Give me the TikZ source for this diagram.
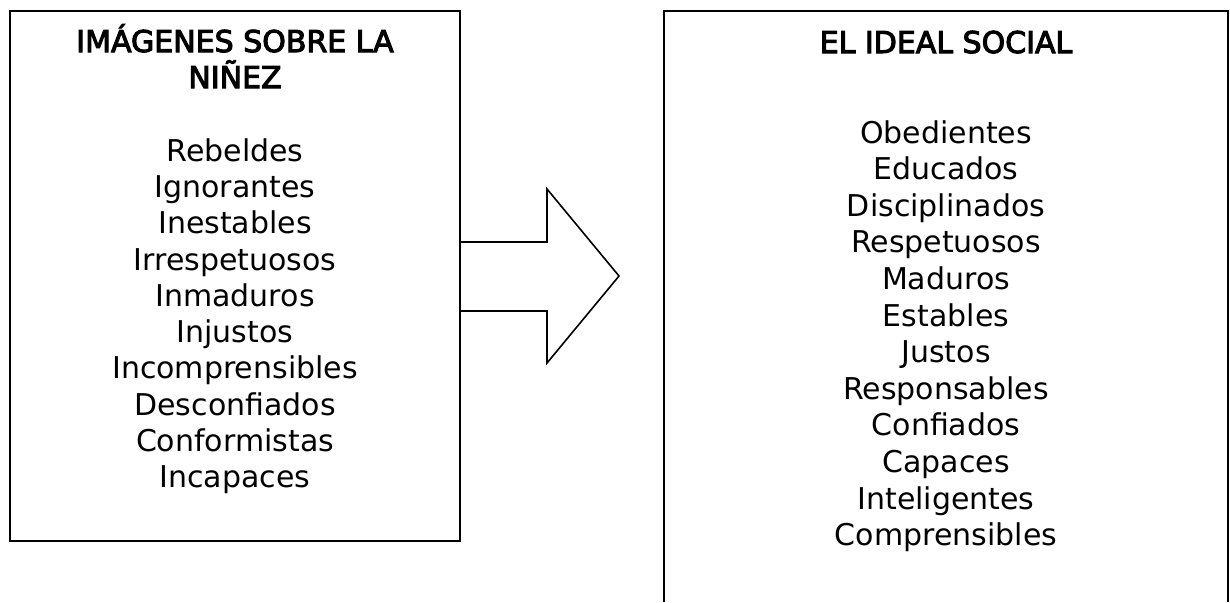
\documentclass[tikz,border=0pt]{standalone}
\usepackage{fontspec}
\setmainfont{DejaVu Sans}
\newfontfamily\fuentetitulo{DejaVu Sans}[FakeBold=3.5]
\begin{document}
\begin{tikzpicture}[x=0.5pt, y=-0.5pt, line join=miter, line width=0.8pt,
	titulo/.style={anchor=base, inner sep=0pt, font=\fontsize{15}{18}\fuentetitulo},
	palabra/.style={anchor=base, inner sep=0pt, font=\fontsize{15}{18}\selectfont}]
	\useasboundingbox (0,0) rectangle (1230,602);
	\path
	(10,11) coordinate (A)
	(460,541) coordinate (B)
	(664,602) coordinate (C)
	(664,11) coordinate (D)
	(1228,11) coordinate (E)
	(1228,602) coordinate (F)
	(460,242) coordinate (P1)
	(547,242) coordinate (P2)
	(547,189) coordinate (P3)
	(619,276) coordinate (P4)
	(547,363) coordinate (P5)
	(547,311) coordinate (P6)
	(460,311) coordinate (P7);
	\draw (A) rectangle (B);
	\draw (C)--(D)--(E)--(F);
	\draw (P1)--(P2)--(P3)--(P4)--(P5)--(P6)--(P7);
	\node[titulo] (tn1) at (235,52) {IMÁGENES SOBRE LA};
	\node[titulo] (tn2) at (235,88) {NIÑEZ};
	\node[titulo] (ti) at (946,53) {EL IDEAL SOCIAL};
	\foreach \w [count=\i] in {Rebeldes,Ignorantes,Inestables,Irrespetuosos,Inmaduros,Injustos,Incomprensibles,Desconfiados,Conformistas,Incapaces}
	\node[palabra] (n\i) at (235,{161+36.33*(\i-1)}) {\w};
	\foreach \w [count=\i] in {Obedientes,Educados,Disciplinados,Respetuosos,Maduros,Estables,Justos,Responsables,Confiados,Capaces,Inteligentes,Comprensibles}
	\node[palabra] (s\i) at (946,{143+36.6*(\i-1)}) {\w};
\end{tikzpicture}
\end{document}
